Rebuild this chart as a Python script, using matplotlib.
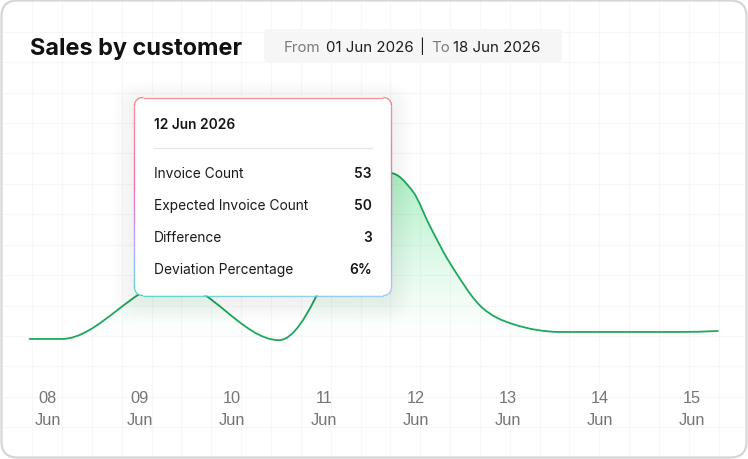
import numpy as np
import matplotlib
matplotlib.use("Agg")
import matplotlib.pyplot as plt
from matplotlib.path import Path
from matplotlib.patches import FancyBboxPatch, PathPatch
from matplotlib.collections import LineCollection
from matplotlib.colors import to_rgb
import matplotlib.transforms as mtransforms

# values: x = day of June, y = invoice count
days = [7.80, 8.15, 9.35, 10.51, 11.72, 11.97, 12.15, 12.37, 12.70, 13.05, 13.57, 14.87, 15.28]
counts = [10.3, 10.3, 25.0, 10.0, 53.0, 48.1, 39.4, 29.8, 18.8, 14.15, 12.1, 12.1, 12.35]

tick_days = [8, 9, 10, 11, 12, 13, 14, 15]
tick_labels = ['08', '09', '10', '11', '12', '13', '14', '15']
tick_month = 'Jun'

title = 'Sales by customer'
range_from = '01 Jun 2026'
range_to = '18 Jun 2026'

tip_date = '12 Jun 2026'
tip_labels = ['Invoice Count', 'Expected Invoice Count', 'Difference', 'Deviation Percentage']
tip_values = ['53', '50', '3', '6%']

FONT = ['Inter', 'DejaVu Sans']
TICKFONT = ['Liberation Sans Narrow', 'Liberation Sans', 'DejaVu Sans']
GREEN = '#1ea85a'


def smooth_path(x, y):
    # cubic bezier through the points, central-difference tangents,
    # flat tangents at local peaks / dips
    x = np.asarray(x, float)
    y = np.asarray(y, float)
    h = np.diff(x)
    s = np.diff(y) / h
    m = np.zeros_like(x)
    m[1:-1] = (y[2:] - y[:-2]) / (x[2:] - x[:-2])
    m[1:-1][s[:-1] * s[1:] <= 0] = 0
    m[0] = (3 * s[0] - m[1]) / 2
    m[-1] = (3 * s[-1] - m[-2]) / 2
    verts = [(x[0], y[0])]
    codes = [Path.MOVETO]
    for i in range(len(x) - 1):
        d = h[i] / 3
        verts += [(x[i] + d, y[i] + m[i] * d),
                  (x[i + 1] - d, y[i + 1] - m[i + 1] * d),
                  (x[i + 1], y[i + 1])]
        codes += [Path.CURVE4] * 3
    return verts, codes


def ramp(stops, t):
    ts = [a for a, _ in stops]
    cs = np.array([to_rgb(c) for _, c in stops])
    return np.array([np.interp(t, ts, cs[:, k]) for k in range(3)])


W, H = 748, 460
fig = plt.figure(figsize=(W / 100, H / 100), dpi=100)

# background card + faint grid
bg = fig.add_axes([0, 0, 1, 1], zorder=0)
bg.set_xlim(0, W)
bg.set_ylim(H, 0)
bg.axis('off')
card = FancyBboxPatch((1.5, 1.5), W - 3, H - 3,
                      boxstyle='round,pad=0,rounding_size=16', fc='white', ec='none')
bg.add_patch(card)
for gx in np.arange(32.3, W, 29.84):
    ln, = bg.plot([gx, gx], [0, H], color='#f7f7f7', lw=0.75)
    ln.set_clip_path(card)
for gy in np.arange(32.7, H, 30.43):
    ln, = bg.plot([0, W], [gy, gy], color='#f7f7f7', lw=0.75)
    ln.set_clip_path(card)

# chart area: 92 px per day, day 8 at x=48 px; y 0 at 380 px, 53 at 174 px
ax = fig.add_axes([0, 80 / H, 1, 300 / H], zorder=1)
x0, x1 = 8 - 48 / 92, 8 + (W - 48) / 92
y1 = 300 * 53 / 206
ax.patch.set_alpha(0)
ax.axis('off')

verts, codes = smooth_path(days, counts)
area = PathPatch(Path(verts + [(days[-1], 0), (days[0], 0), (days[0], 0)],
                      codes + [Path.LINETO, Path.LINETO, Path.CLOSEPOLY]),
                 fc='none', ec='none', transform=ax.transData)
ax.add_patch(area)
yy = np.linspace(0, 60, 400)
grad = np.zeros((400, 1, 4))
grad[..., :3] = to_rgb('#4ade80')
grad[:, 0, 3] = 0.44 * np.clip((yy - 10) / 43, 0, 1) ** 1.2
im = ax.imshow(grad, extent=(x0, x1, 0, 60), origin='lower', aspect='auto',
               interpolation='bilinear', zorder=1)
im.set_clip_path(area)
ax.add_patch(PathPatch(Path(verts, codes), fill=False, ec=GREEN, lw=1.3,
                       capstyle='round', zorder=2))
ax.set_xlim(x0, x1)
ax.set_ylim(0, y1)

# overlay in pixel coordinates
ov = fig.add_axes([0, 0, 1, 1], zorder=2)
ov.set_xlim(0, W)
ov.set_ylim(H, 0)
ov.axis('off')
ov.patch.set_alpha(0)

# x tick labels, placed by the chart's x scale
tr = mtransforms.blended_transform_factory(ax.transData, ov.transData)
for d, lbl in zip(tick_days, tick_labels):
    ov.text(d, 402.7, lbl, transform=tr, ha='center', va='baseline',
            fontsize=11.8, color='#757575', family=TICKFONT)
    ov.text(d, 425, tick_month, transform=tr, ha='center', va='baseline',
            fontsize=11.8, color='#757575', family=TICKFONT)

# title and date range
ov.text(30, 55, title, fontsize=16.9, fontweight='bold', color='#111111',
        family=FONT, va='baseline')
ov.add_patch(FancyBboxPatch((264, 30), 298, 33, boxstyle='round,pad=0,rounding_size=4',
                            fc='#f6f6f6', ec='none'))
ov.text(284, 51.7, 'From', fontsize=10.8, color='#7a7a7a', family=FONT, va='baseline')
ov.text(326, 51.7, range_from, fontsize=10.8, color='#1c1c1c', family=FONT, va='baseline')
ov.text(421.7, 51.7, '|', fontsize=10.8, color='#1c1c1c', family=FONT, va='baseline', ha='center')
ov.text(431.5, 51.7, 'To', fontsize=10.8, color='#7a7a7a', family=FONT, va='baseline')
ov.text(453.5, 51.7, range_to, fontsize=10.8, color='#1c1c1c', family=FONT, va='baseline')

# tooltip
tx0, ty0, tx1, ty1, r = 134.5, 98.5, 391.5, 296.5, 8
for i in range(14):
    pad = 1 + 1.6 * i
    ov.add_patch(FancyBboxPatch((tx0 - pad, ty0 - pad + 5), tx1 - tx0 + 2 * pad,
                                ty1 - ty0 + 2 * pad,
                                boxstyle='round,pad=0,rounding_size=%g' % (r + pad),
                                fc='black', ec='none', alpha=0.0045))
ov.add_patch(FancyBboxPatch((tx0, ty0), tx1 - tx0, ty1 - ty0,
                            boxstyle='round,pad=0,rounding_size=%g' % r,
                            fc='white', ec='none'))

pts = []
for cx, cy, a0, a1 in [(tx1 - r, ty0 + r, -90, 0), (tx1 - r, ty1 - r, 0, 90),
                       (tx0 + r, ty1 - r, 90, 180), (tx0 + r, ty0 + r, 180, 270)]:
    a = np.radians(np.linspace(a0, a1, 16))
    pts += list(zip(cx + r * np.cos(a), cy + r * np.sin(a)))
pts.append(pts[0])
pts = np.array(pts)
seg_len = np.hypot(*np.diff(pts, axis=0).T)
cum = np.concatenate([[0], np.cumsum(seg_len)])
s = np.linspace(0, cum[-1], 900)
px = np.interp(s, cum, pts[:, 0])
py = np.interp(s, cum, pts[:, 1])
left_stops = [(0, '#f87171'), (0.45, '#ec4899'), (0.72, '#a78bfa'), (1, '#2dd4bf')]
right_stops = [(0, '#f87171'), (0.45, '#ec4899'), (0.78, '#a78bfa'), (1, '#93c5fd')]
cols = []
for xp, yp in zip((px[:-1] + px[1:]) / 2, (py[:-1] + py[1:]) / 2):
    tyf = (yp - ty0) / (ty1 - ty0)
    txf = (xp - tx0) / (tx1 - tx0)
    cols.append((1 - txf) * ramp(left_stops, tyf) + txf * ramp(right_stops, tyf))
segs = np.stack([np.column_stack([px[:-1], py[:-1]]), np.column_stack([px[1:], py[1:]])], axis=1)
ov.add_collection(LineCollection(segs, colors=cols, linewidths=0.9))

ov.text(154, 129.3, tip_date, fontsize=9.9, fontweight='semibold', color='#151515',
        family=FONT, va='baseline')
ov.plot([154, 372], [149.3, 149.3], color='#e6e6e6', lw=0.9)
for i, (lbl, val) in enumerate(zip(tip_labels, tip_values)):
    yb = 177.7 + 32.1 * i
    ov.text(154, yb, lbl, fontsize=9.9, color='#1a1a1a', family=FONT, va='baseline')
    ov.text(372, yb, val, fontsize=9.9, fontweight='semibold', color='#151515',
            family=FONT, va='baseline', ha='right')

# card border on top
ov.add_patch(FancyBboxPatch((1.5, 1.5), W - 3, H - 3,
                            boxstyle='round,pad=0,rounding_size=16', fc='none',
                            ec='#d6d6d6', lw=1.6))

fig.savefig('out.png', dpi=100, facecolor='white')
